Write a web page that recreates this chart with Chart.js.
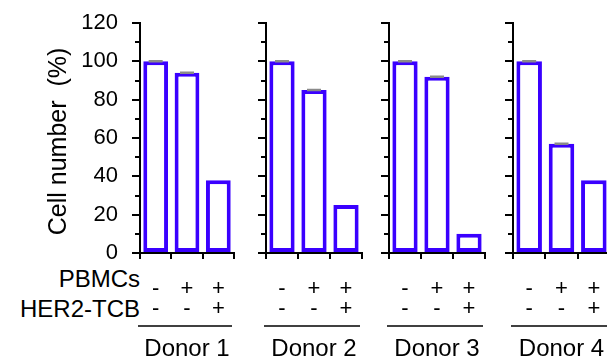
<!DOCTYPE html>
<html lang="en">
<head>
  <meta charset="UTF-8">
  <title>Cell number</title>
  <script src="https://cdn.jsdelivr.net/npm/chart.js"></script>
  <style>
    html, body { margin: 0; padding: 0; background: #fff; overflow: hidden; }
    body { width: 607px; height: 358px; position: relative; font-family: "Liberation Sans", Arial, sans-serif; }
    canvas { position: absolute; top: 0; }
    .row { position: absolute; right: 467px; font-size: 24px; line-height: 24px; color: #000; white-space: nowrap; }
  </style>
</head>
<body>
  <div class="row" style="top:267px">PBMCs</div>
  <div class="row" style="top:297px">HER2-TCB</div>

  <script>
    const donors = ['Donor 1', 'Donor 2', 'Donor 3', 'Donor 4'];
    const conditions = [['-', '-'], ['+', '-'], ['+', '+']]; // PBMCs / HER2-TCB
    const cellNumber = [
      [100, 94, 38],
      [100, 85, 25],
      [100, 92, 10],
      [100, 57, 38]
    ];
    const errCap = [
      [100, 94, null],
      [100, 85, null],
      [100, 92, null],
      [100, 57, null]
    ];
    const yTicks = [0, 20, 40, 60, 80, 100, 120];

    const axisX = [140, 266, 389, 513]; // left edge of each panel
    const panelW = [94, 96, 96, 97];
    Chart.defaults.font.family = '"Liberation Sans", Arial, sans-serif';
    Chart.defaults.color = '#000';

    // line under the +/- table
    const underline = {
      id: 'underline',
      afterDraw(chart) {
        const s = chart.scales.x, ctx = chart.ctx;
        ctx.save();
        ctx.strokeStyle = '#000';
        ctx.lineWidth = 1.5;
        ctx.beginPath();
        ctx.moveTo(s.left - 2, s.top + 73);
        ctx.lineTo(s.right - 2, s.top + 73);
        ctx.stroke();
        ctx.restore();
      }
    };

    function makeChart(i) {
      const first = i === 0;
      const yw = first ? 140 : 14;
      const cv = document.createElement('canvas');
      cv.width = yw + panelW[i] + 2;
      cv.height = 358;
      cv.style.left = (axisX[i] - yw) + 'px';
      document.body.appendChild(cv);

      new Chart(cv, {
        type: 'bar',
        data: {
          labels: conditions,
          datasets: [
            {
              type: 'line', data: errCap[i], showLine: false, order: 0,
              pointStyle: 'line', pointRadius: 7, borderColor: '#8a8a8a',
              pointBorderColor: '#8a8a8a', pointBorderWidth: 2.5
            },
            {
              data: cellNumber[i], order: 1,
              backgroundColor: '#fff', borderColor: '#3a00ff', borderWidth: 4,
              borderSkipped: false, barPercentage: 0.79, categoryPercentage: 1
            }
          ]
        },
        options: {
          responsive: false,
          animation: false,
          layout: { autoPadding: false, padding: { top: 23, right: 2, bottom: 0, left: 0 } },
          plugins: { legend: { display: false }, tooltip: { enabled: false } },
          scales: {
            x: {
              grid: { drawOnChartArea: false, offset: true, tickLength: 6, color: '#000', lineWidth: 2 },
              border: { color: '#000', width: 2 },
              ticks: { font: { size: 22, lineHeight: 0.91 }, padding: 20, maxRotation: 0, autoSkip: false },
              title: { display: true, text: donors[i], font: { size: 24, lineHeight: 0.75 }, padding: 0 },
              afterFit(s) { s.height = 105; s.paddingLeft = 0; s.paddingRight = 0; }
            },
            y: {
              min: 0, max: 120,
              ticks: {
                stepSize: 10, autoSkip: false, font: { size: 22 }, padding: 14,
                callback: v => (first && yTicks.includes(v)) ? v : ''
              },
              grid: {
                drawOnChartArea: false, tickLength: 8, color: '#000', lineWidth: 2,
                tickBorderDash: c => (c.tick && yTicks.includes(c.tick.value)) ? [] : [0, 3, 5, 10]
              },
              border: { color: '#000', width: 2 },
              title: { display: first, text: 'Cell number  (%) ', font: { size: 25 }, padding: { top: 44, bottom: 0 } },
              afterFit(s) { s.width = yw; s.paddingTop = 0; s.paddingBottom = 0; }
            }
          }
        },
        plugins: [underline]
      });
    }

    donors.forEach((_, i) => makeChart(i));
  </script>
</body>
</html>
